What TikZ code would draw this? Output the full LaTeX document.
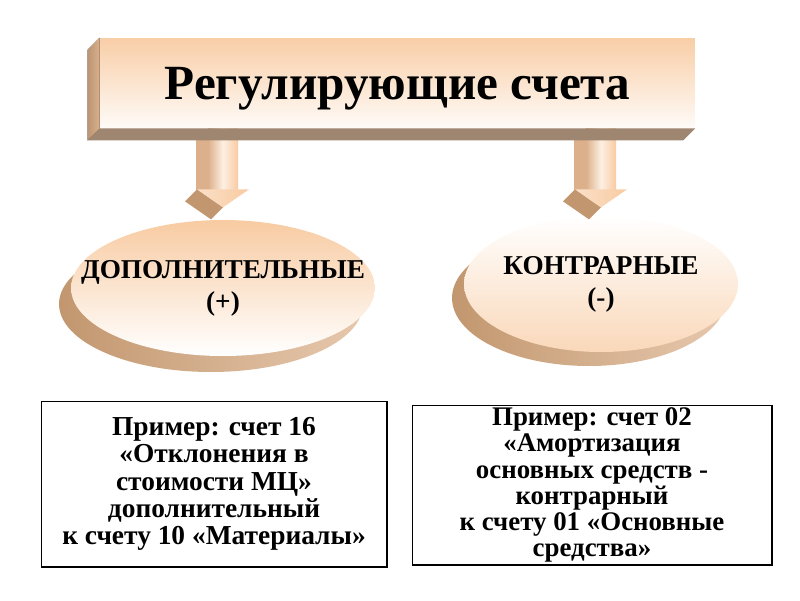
\documentclass[tikz,border=0pt]{standalone}
\usepackage{fontspec}
\setmainfont{Liberation Serif}
\usetikzlibrary{shapes.geometric}

\definecolor{peach}{HTML}{F8CBA2}
\definecolor{sidetan}{HTML}{DCB08A}
\definecolor{darktan}{HTML}{C2976F}
\definecolor{shadowbrown}{HTML}{9E8670}

\tikzset{
  pics/downarrow/.style={code={
    \fill[sidetan] (-15,0) -- (-15,61) -- (-27,73) -- (-27,12) -- cycle;
    \fill[darktan] (-26,61) -- (0,79) -- (-12,91) -- (-38,73) -- cycle;
    \shade[left color=sidetan, right color=peach, middle color=peach!30]
      (-15,0) rectangle (15,61);
    \shade[left color=peach!60, right color=peach] (-26,61) -- (26,61) -- (0,79) -- cycle;
  }}
}

\begin{document}
\begin{tikzpicture}[
  x=0.02cm, y=-0.02cm,
  titlebox/.style={top color=peach!95, bottom color=peach!8, minimum width=11.9cm,
    minimum height=1.8cm, inner sep=0pt, text depth=0pt,
    font=\fontsize{28}{30}\selectfont\bfseries},
  ovalback/.style={ellipse, inner sep=0pt, left color=darktan, right color=sidetan!70},
  ovalfront/.style={ellipse, inner xsep=-70pt, inner ysep=0pt, align=center,
    font=\fontsize{15.5}{18.2}\selectfont\bfseries},
  exbox/.style={draw, line width=0.6pt, inner sep=0pt, align=center}
]
  \useasboundingbox (0,0) rectangle (800,600);

  \node[titlebox] (title) at (397.5,83) {Регулирующие счета};

  \node[ovalback, minimum width=6.08cm, minimum height=2.72cm] (addback) at (211,304) {};
  \node[ovalfront, minimum width=6.08cm, minimum height=2.72cm,
    top color=peach, bottom color=white] (add) at (223,288) {ДОПОЛНИТЕЛЬНЫЕ\\(+)};
  \node[ovalback, minimum width=5.48cm, minimum height=2.72cm] (contraback) at (589,298) {};
  \node[ovalfront, minimum width=5.48cm, minimum height=2.72cm,
    top color=white, bottom color=peach!75] (contra) at (601,284) {КОНТРАРНЫЕ\\(-)};

  \pic at (add.center |- title.south) {downarrow};
  \pic at (contra.center |- title.south) {downarrow};

  \fill[left color=sidetan!85!black, right color=sidetan]
    (title.north west) -- ++(-12,12) -- ([shift={(-12,12)}]title.south west)
    -- (title.south west) -- cycle;
  \fill[shadowbrown] (title.south west) -- ++(-12,12)
    -- ([shift={(-12,12)}]title.south east) -- (title.south east) -- cycle;

  \node[exbox, minimum width=6.92cm, minimum height=3.32cm,
    font=\fontsize{15.6}{15.6}\selectfont\bfseries] (ex1) at (214,484)
    {Пример: счет 16\\«Отклонения в\\стоимости МЦ»\\дополнительный\\к счету 10 «Материалы»};
  \node[exbox, minimum width=7.2cm, minimum height=3.2cm,
    font=\fontsize{15.3}{14.9}\selectfont\bfseries] (ex2) at (592,485)
    {Пример: счет 02\\«Амортизация\\основных средств -\\контрарный\\к счету 01 «Основные\\средства»};
\end{tikzpicture}
\end{document}
